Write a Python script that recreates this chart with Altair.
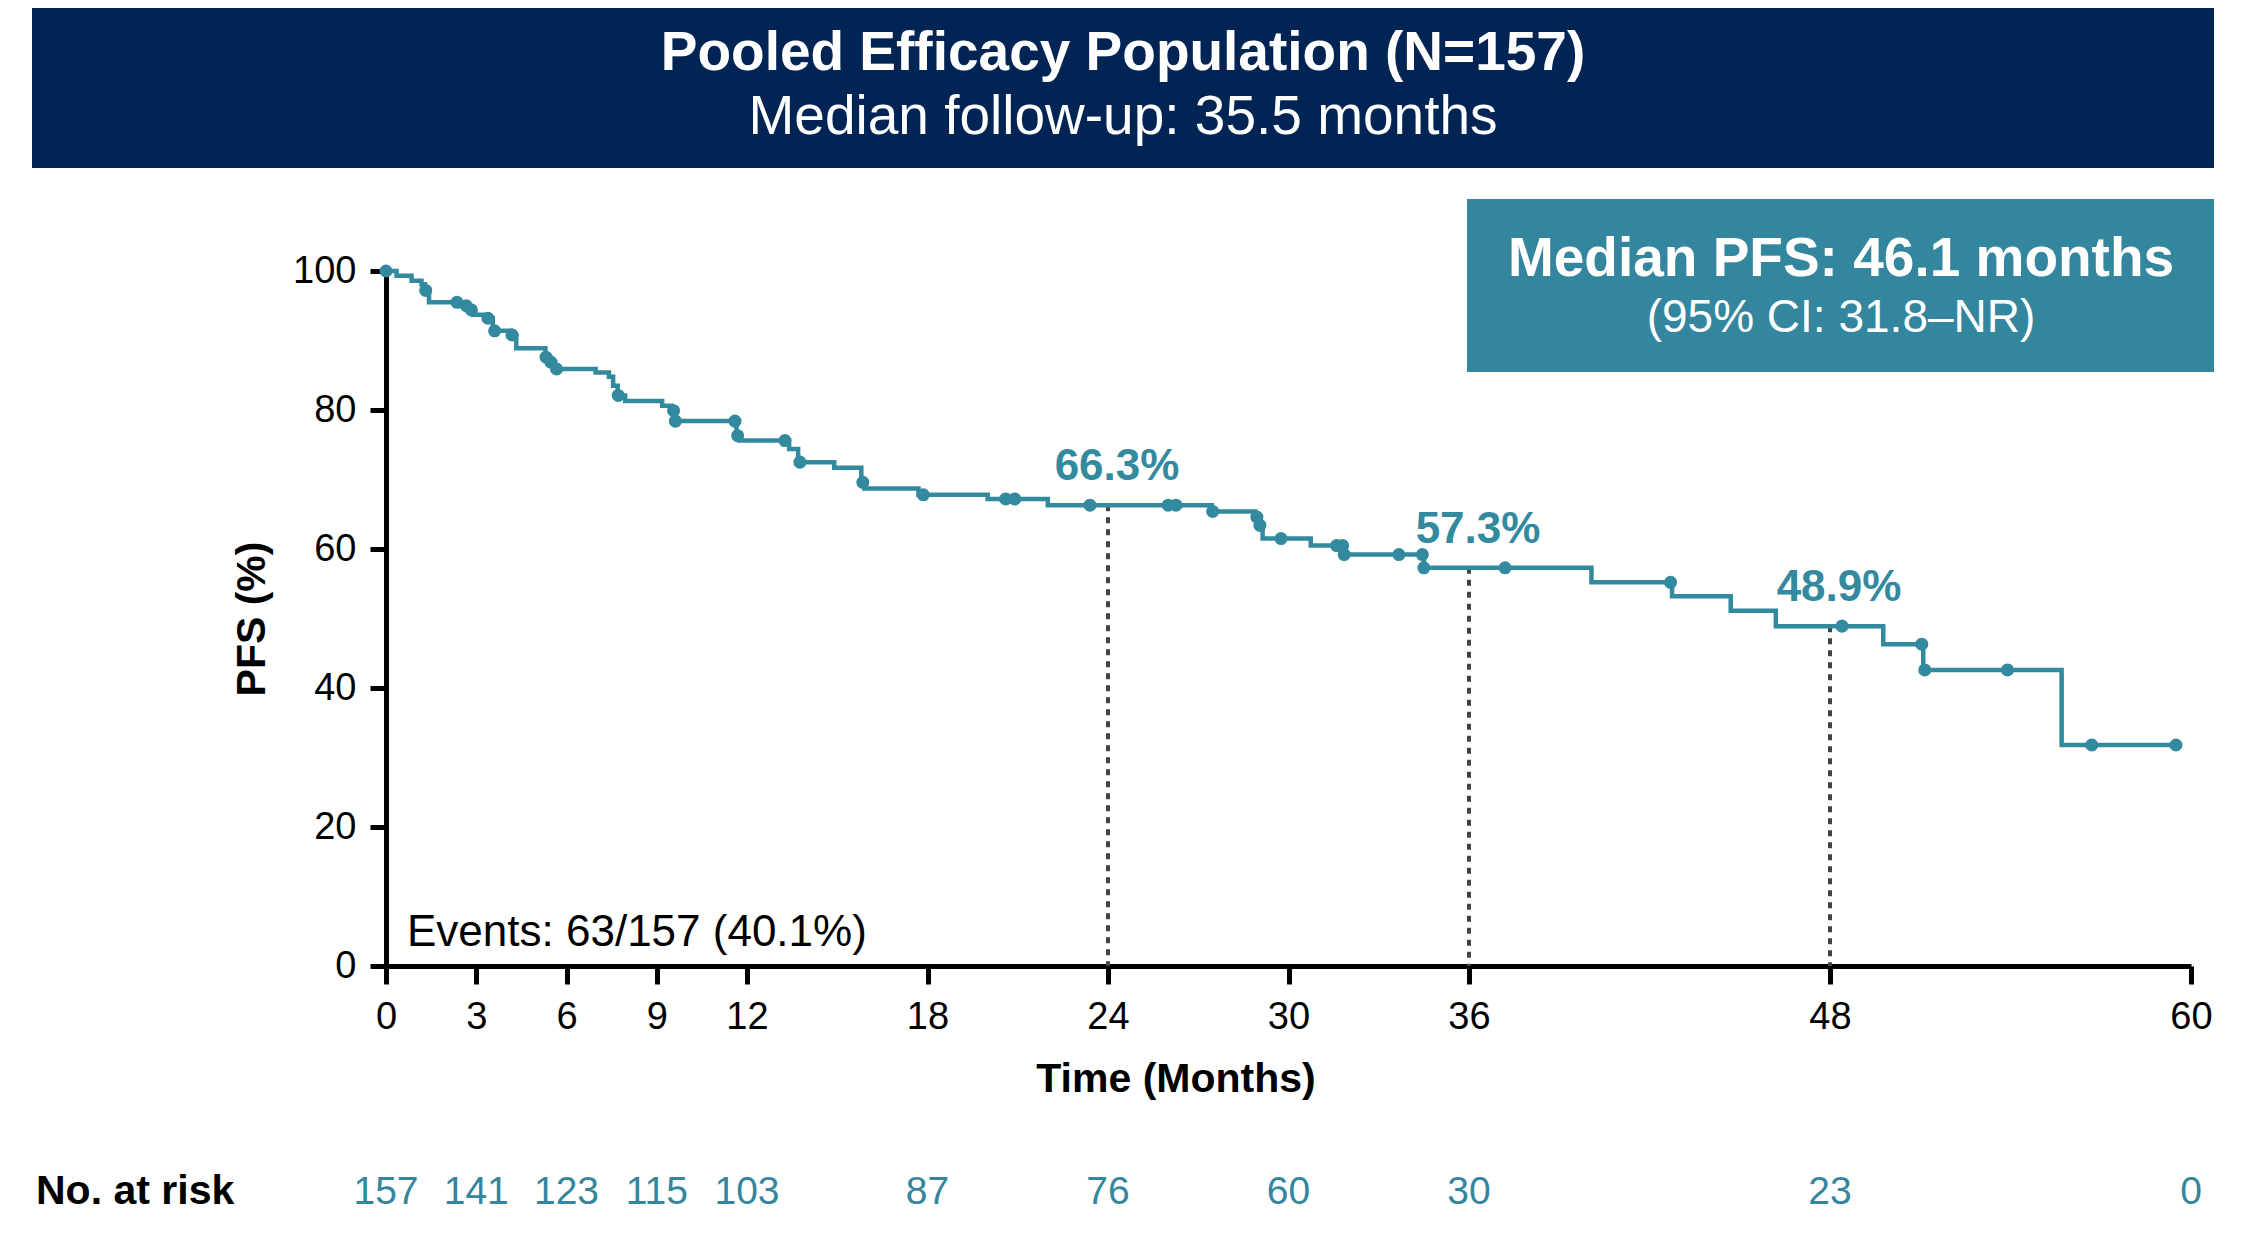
import altair as alt
import pandas as pd

# ---------------- data ----------------
step_time = [0, 0.35, 0.85, 1.18, 1.3, 1.43, 2.6, 2.8, 2.89, 3.3, 3.55, 4.15, 4.33,
             5.3, 5.45, 5.62, 6.97, 7.41, 7.55, 7.7, 7.95, 9.18, 9.5, 9.6, 11.65,
             11.75, 13.4, 13.7, 14.9, 15.8, 15.9, 17.7, 20.0, 22.0, 27.45, 28.9,
             29.02, 29.14, 30.74, 31.83, 34.5, 40.07, 42.75, 44.7, 46.2, 49.77,
             51.1, 55.7, 59.5]
step_surv = [100, 99.3, 98.6, 98.1, 97.2, 95.5, 95.0, 94.4, 93.7, 93.2, 91.4, 90.8, 88.9,
             87.6, 86.9, 85.9, 85.4, 84.8, 83.5, 82.1, 81.3, 80.6, 79.9, 78.4, 76.3,
             75.6, 74.4, 72.5, 71.7, 69.6, 68.7, 67.8, 67.2, 66.3, 65.4, 64.6,
             63.4, 61.5, 60.5, 59.2, 57.3, 55.2, 53.2, 51.1, 48.9, 46.3,
             42.6, 31.8, 31.8]

cens_time = [0, 1.32, 2.36, 2.67, 2.84, 3.39, 3.61, 4.19, 5.32, 5.48, 5.67, 7.72,
             9.56, 9.62, 11.6, 11.69, 13.26, 13.76, 15.85, 17.86, 20.6, 20.9, 23.4,
             26.0, 26.26, 27.48, 28.95, 29.05, 29.75, 31.6, 31.8, 31.85, 33.67,
             34.45, 34.5, 37.2, 42.7, 48.4, 51.05, 51.15, 53.9, 56.7, 59.5]
cens_surv = [100, 97.2, 95.5, 95.0, 94.4, 93.2, 91.4, 90.8, 87.6, 86.9, 85.9, 82.1,
             79.9, 78.4, 78.4, 76.3, 75.6, 72.5, 69.6, 67.8, 67.2, 67.2, 66.3,
             66.3, 66.3, 65.4, 64.6, 63.4, 61.5, 60.5, 60.5, 59.2, 59.2,
             59.2, 57.3, 57.3, 55.2, 48.9, 46.3, 42.6, 42.6, 31.8, 31.8]

landmark_time = [24, 36, 48]
landmark_surv = [66.3, 57.3, 48.9]
landmark_label = ["66.3%", "57.3%", "48.9%"]

risk_time = [0, 3, 6, 9, 12, 18, 24, 30, 36, 48, 60]
risk_n = [157, 141, 123, 115, 103, 87, 76, 60, 30, 23, 0]

x_ticks = [0, 3, 6, 9, 12, 18, 24, 30, 36, 48, 60]
y_ticks = [0, 20, 40, 60, 80, 100]

title_text = "Pooled Efficacy Population (N=157)"
subtitle_text = "Median follow-up: 35.5 months"
median_text = "Median PFS: 46.1 months"
ci_text = "(95% CI: 31.8\u2013NR)"
events_text = "Events: 63/157 (40.1%)"
x_title = "Time (Months)"
y_title = "PFS (%)"
risk_title = "No. at risk"

# ---------------- styling ----------------
FONT = "Liberation Sans, Arial, Helvetica, sans-serif"
NAVY = "#002554"
TEAL = "#34869e"
CURVE = "#338a9f"

W, H = 1805, 695

xs = alt.Scale(domain=[0, 60], nice=False, zero=False)
ys = alt.Scale(domain=[0, 100], nice=False, zero=False)

steps = pd.DataFrame({"time": step_time, "surv": step_surv})
cens = pd.DataFrame({"time": cens_time, "surv": cens_surv})
marks = pd.DataFrame({"time": landmark_time, "surv": landmark_surv, "label": landmark_label})
risk = pd.DataFrame({"time": risk_time, "n": [str(v) for v in risk_n]})
one = pd.DataFrame({"k": [0]})


def txt(s):
    return pd.DataFrame({"t": [s]})


x_axis = alt.Axis(values=x_ticks, title=None, labelFontSize=38, labelFont=FONT,
                  labelColor="black", tickSize=18, tickWidth=5, tickColor="black",
                  domainWidth=5, domainColor="black", labelPadding=14,
                  labelFlush=False, labelOverlap=False, grid=False, format="d")
y_axis = alt.Axis(values=y_ticks, title=None, labelFontSize=38, labelFont=FONT,
                  labelColor="black", tickSize=16, tickWidth=5, tickColor="black",
                  domainWidth=5, domainColor="black", labelPadding=14,
                  labelFlush=False, labelOverlap=False, grid=False, format="d")


def X():
    return alt.X("time:Q", scale=xs, axis=x_axis)


def Y():
    return alt.Y("surv:Q", scale=ys, axis=y_axis)


banner = alt.Chart(one).mark_rect(color=NAVY).encode(
    x=alt.value(-354), x2=alt.value(1828), y=alt.value(-263), y2=alt.value(-103))

title = alt.Chart(txt(title_text)).mark_text(
    font=FONT, fontSize=55, fontWeight="bold", color="white", baseline="middle", align="center"
).encode(x=alt.value(737), y=alt.value(-218), text="t:N")

subtitle = alt.Chart(txt(subtitle_text)).mark_text(
    font=FONT, fontSize=55, color="white", baseline="middle", align="center"
).encode(x=alt.value(737), y=alt.value(-154), text="t:N")

box = alt.Chart(one).mark_rect(color=TEAL).encode(
    x=alt.value(1081), x2=alt.value(1828), y=alt.value(-72), y2=alt.value(101))

med = alt.Chart(txt(median_text)).mark_text(
    font=FONT, fontSize=55, fontWeight="bold", color="white", baseline="middle", align="center"
).encode(x=alt.value(1455), y=alt.value(-12), text="t:N")

ci = alt.Chart(txt(ci_text)).mark_text(
    font=FONT, fontSize=46, color="white", baseline="middle", align="center"
).encode(x=alt.value(1455), y=alt.value(47), text="t:N")

rules = alt.Chart(marks).mark_rule(color="#444444", strokeWidth=4, strokeDash=[6, 6]).encode(
    x=X(), y=Y(), y2=alt.datum(0))

line = alt.Chart(steps).mark_line(color=CURVE, strokeWidth=4.5, interpolate="step-after").encode(
    x=X(), y=Y())

pts = alt.Chart(cens).mark_circle(color=CURVE, size=170, opacity=1).encode(
    x=X(), y=Y())

lab = alt.Chart(marks).mark_text(
    font=FONT, fontSize=44, fontWeight="bold", color=CURVE, dx=9, dy=-25,
    baseline="alphabetic", align="center"
).encode(x=X(), y=Y(), text="label:N")

events = alt.Chart(txt(events_text)).mark_text(
    font=FONT, fontSize=44, color="black", baseline="alphabetic", align="left"
).encode(x=alt.value(21), y=alt.value(675), text="t:N")

xt = alt.Chart(txt(x_title)).mark_text(
    font=FONT, fontSize=41, fontWeight="bold", color="black", baseline="middle", align="center"
).encode(x=alt.value(790), y=alt.value(809), text="t:N")

yt = alt.Chart(txt(y_title)).mark_text(
    font=FONT, fontSize=41, fontWeight="bold", color="black", baseline="middle",
    align="center", angle=270
).encode(x=alt.value(-133), y=alt.value(348), text="t:N")

risk_lab = alt.Chart(txt(risk_title)).mark_text(
    font=FONT, fontSize=41, fontWeight="bold", color="black", baseline="middle", align="left"
).encode(x=alt.value(-350), y=alt.value(921), text="t:N")

risk_nums = alt.Chart(risk).mark_text(
    font=FONT, fontSize=39, color=TEAL, baseline="middle", align="center"
).encode(x=X(), y=alt.value(921), text="n:N")

chart = alt.layer(
    banner, title, subtitle, box, med, ci, rules, line, pts, lab, events,
    xt, yt, risk_lab, risk_nums
).properties(
    width=W, height=H,
    autosize=alt.AutoSizeParams(type="none"),
    padding={"left": 378, "top": 263, "right": 49, "bottom": 265},
    background="white",
).configure_view(stroke=None)

chart.save("out.html", embed_options={"renderer": "svg", "actions": False})
